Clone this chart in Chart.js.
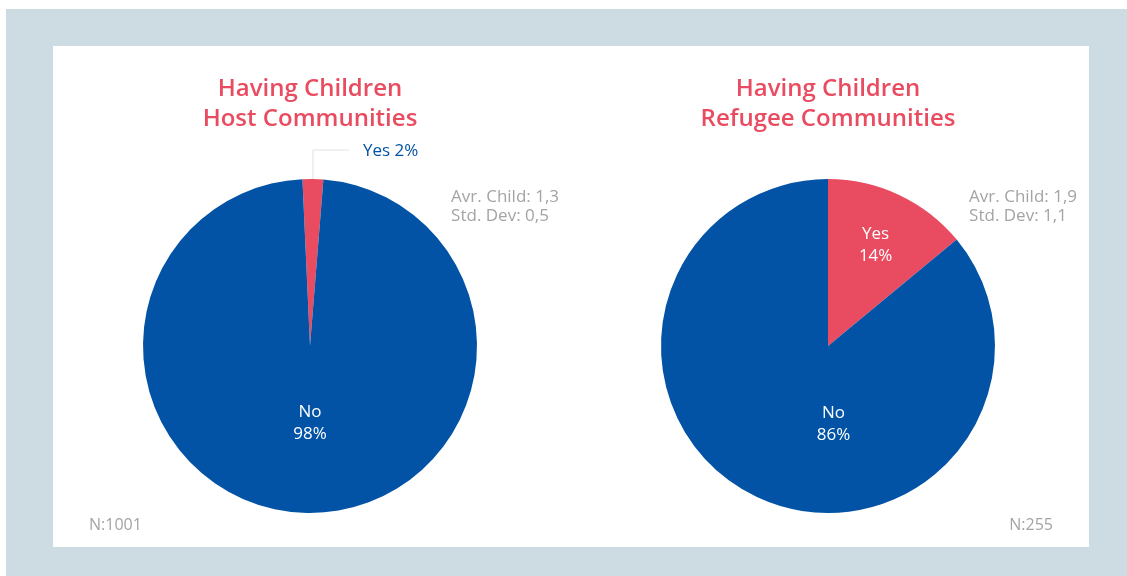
<!DOCTYPE html>
<html>
<head>
<meta charset="utf-8">
<script src="https://cdn.jsdelivr.net/npm/chart.js@4/dist/chart.umd.min.js"></script>
<style>
  html, body { margin: 0; padding: 0; background: #ffffff; }
  body { width: 1127px; height: 576px; position: relative; overflow: hidden; font-family: "Open Sans", sans-serif; }
  #backdrop { position: absolute; left: 6px; top: 9px; width: 1121px; height: 567px; background: #cddbe3; }
  #panel { position: absolute; left: 53px; top: 46px; width: 1036px; height: 501px; background: #ffffff; }
  .cell { position: absolute; top: 46px; width: 518px; height: 501px; }
  #hostCell { left: 53px; }
  #refugeeCell { left: 571px; }
</style>
</head>
<body>
<div id="backdrop"></div>
<div id="panel"></div>
<div class="cell" id="hostCell"><canvas id="hostChart" width="518" height="501"></canvas></div>
<div class="cell" id="refugeeCell"><canvas id="refugeeChart" width="518" height="501"></canvas></div>
<script>
// Survey answers: does the household have children?
const categories = ['Yes', 'No'];
const hostShares = [2, 98];
const refugeeShares = [14, 86];

const hostTitle = ['Having Children', 'Host Communities'];
const refugeeTitle = ['Having Children', 'Refugee Communities'];

const hostStats = ['Avr. Child: 1,3', 'Std. Dev: 0,5'];
const refugeeStats = ['Avr. Child: 1,9', 'Std. Dev: 1,1'];

const hostSample = 1001;
const refugeeSample = 255;

const RED = '#e94c60';
const BLUE = '#0253a5';
const GREY_TEXT = '#a4a4a4';
const FONT = '"Open Sans", "Noto Sans", sans-serif';

// Draws slice labels, the stats note and the sample size on top of each pie.
const pieNotes = {
  id: 'pieNotes',
  afterDatasetsDraw(chart, args, opts) {
    const ctx = chart.ctx;
    const meta = chart.getDatasetMeta(0);
    const values = chart.data.datasets[0].data;
    const labels = chart.data.labels;
    const first = meta.data[0];
    const cx = first.x, cy = first.y, r = first.outerRadius;

    ctx.save();
    ctx.textBaseline = 'middle';

    meta.data.forEach((arc, i) => {
      const place = opts.placement[i];
      const text = labels[i] + ' ' + values[i] + '%';
      const mid = (arc.startAngle + arc.endAngle) / 2;
      if (place.mode === 'callout') {
        // leader line from the rim, straight up then to the right
        const px = cx + Math.cos(mid) * r;
        const py = cy + Math.sin(mid) * r;
        const topY = py - place.rise;
        const endX = px + place.run;
        ctx.strokeStyle = '#e2e2e2';
        ctx.lineWidth = 1;
        ctx.beginPath();
        ctx.moveTo(px, py);
        ctx.lineTo(px, topY);
        ctx.lineTo(endX, topY);
        ctx.stroke();
        ctx.fillStyle = BLUE;
        ctx.font = '400 17px ' + FONT;
        ctx.textAlign = 'left';
        ctx.fillText(text, endX + place.gap, topY + 1);
      } else {
        const a = place.angle !== undefined ? (place.angle - 90) * Math.PI / 180 : mid;
        const lx = cx + Math.cos(a) * r * place.radius;
        const ly = cy + Math.sin(a) * r * place.radius;
        ctx.fillStyle = '#ffffff';
        ctx.font = '400 17px ' + FONT;
        ctx.textAlign = 'center';
        ctx.fillText(labels[i], lx, ly - 11);
        ctx.fillText(values[i] + '%', lx, ly + 11);
      }
    });

    // mean / deviation note to the upper right of the pie
    ctx.fillStyle = GREY_TEXT;
    ctx.font = '400 17px ' + FONT;
    ctx.textAlign = 'left';
    opts.stats.forEach((line, k) => {
      ctx.fillText(line, cx + r * 0.845, cy - r * 0.89 + k * 19);
    });

    // sample size in the bottom corner
    ctx.font = '400 16px ' + FONT;
    ctx.textAlign = opts.sampleAlign;
    const sx = opts.sampleAlign === 'left' ? 36 : chart.width - 36;
    ctx.fillText('N:' + opts.sample, sx, chart.height - 22);
    ctx.restore();
  }
};

function makePie(canvasId, title, shares, rotation, placement, stats, sample, sampleAlign) {
  return new Chart(document.getElementById(canvasId), {
    type: 'pie',
    data: {
      labels: categories,
      datasets: [{
        data: shares,
        backgroundColor: [RED, BLUE],
        borderWidth: 0,
        hoverOffset: 0
      }]
    },
    options: {
      responsive: false,
      animation: false,
      rotation: rotation,
      layout: { padding: { left: 90, right: 94, top: 0, bottom: 34 } },
      plugins: {
        legend: { display: false },
        tooltip: { enabled: false },
        title: {
          display: true,
          text: title,
          color: RED,
          font: { family: FONT, size: 24, weight: '600', lineHeight: 1.25 },
          padding: { top: 28, bottom: 45 }
        },
        pieNotes: { placement, stats, sample, sampleAlign }
      }
    },
    plugins: [pieNotes]
  });
}

makePie('hostChart', hostTitle, hostShares, -2.6,
  [{ mode: 'callout', rise: 29, run: 36, gap: 14 }, { mode: 'inside', angle: 180, radius: 0.46 }],
  hostStats, hostSample, 'left');

makePie('refugeeChart', refugeeTitle, refugeeShares, 0,
  [{ mode: 'inside', radius: 0.67 }, { mode: 'inside', angle: 176, radius: 0.47 }],
  refugeeStats, refugeeSample, 'right');
</script>
</body>
</html>
